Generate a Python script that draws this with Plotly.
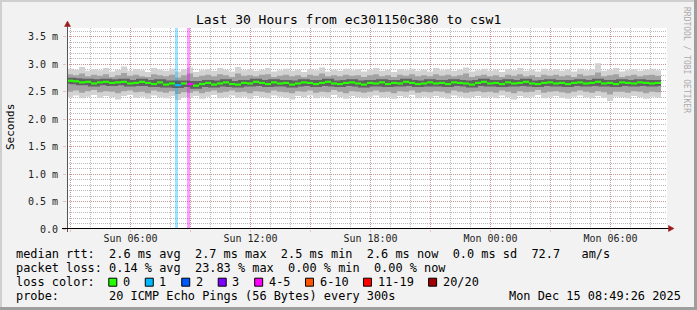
import plotly.graph_objects as go
import pandas as pd

# ---------------- data ----------------
T_START = "2025-12-14 02:49:26"
T_END = "2025-12-15 08:49:26"
STEP = "18min"
Y_TOP = 3.66  # ms, top of value axis

median_ms = [
    2.70, 2.69, 2.67, 2.68, 2.65, 2.67, 2.68, 2.66, 2.67, 2.68,
    2.65, 2.66, 2.68, 2.66, 2.64, 2.67, 2.63, 2.65, 2.62, 2.65,
    2.64, 2.61, 2.64, 2.66, 2.63, 2.65, 2.67, 2.64, 2.63, 2.66,
    2.65, 2.68, 2.66, 2.64, 2.67, 2.65, 2.66, 2.63, 2.65, 2.67,
    2.66, 2.64, 2.66, 2.68, 2.65, 2.64, 2.66, 2.67, 2.65, 2.63,
    2.66, 2.65, 2.67, 2.64, 2.66, 2.65, 2.68, 2.66, 2.64, 2.65,
    2.67, 2.65, 2.66, 2.64, 2.67, 2.66, 2.65, 2.63, 2.66, 2.68,
    2.65, 2.66, 2.64, 2.67, 2.65, 2.66, 2.68, 2.65, 2.64, 2.66,
    2.67, 2.65, 2.66, 2.64, 2.66, 2.67, 2.65, 2.66, 2.68, 2.65,
    2.66, 2.64, 2.67, 2.66, 2.65, 2.67, 2.66, 2.65, 2.66,
]
smoke_max_ms = [
    2.92, 2.90, 2.95, 2.88, 2.91, 2.89, 2.93, 2.87, 2.90, 2.96,
    2.88, 2.91, 2.89, 2.86, 2.93, 2.90, 2.88, 2.92, 2.87, 2.91,
    2.94, 2.86, 2.89, 2.91, 2.88, 2.93, 2.90, 2.87, 2.95, 2.89,
    2.91, 2.88, 2.90, 2.93, 2.87, 2.89, 2.92, 2.88, 2.90, 2.86,
    2.91, 2.89, 2.94, 2.87, 2.90, 2.88, 2.92, 2.89, 2.91, 2.87,
    2.90, 2.93, 2.88, 2.90, 2.86, 2.91, 2.89, 2.92, 2.88, 2.90,
    2.87, 2.93, 2.89, 2.91, 2.88, 2.90, 2.94, 2.87, 2.89, 2.92,
    2.88, 2.90, 2.86, 2.91, 2.89, 2.93, 2.88, 2.90, 2.87, 2.92,
    2.89, 2.91, 2.88, 2.90, 2.87, 2.92, 2.89, 2.91, 3.02, 2.88,
    2.90, 2.93, 2.87, 2.89, 2.91, 2.88, 2.90, 2.92, 2.89,
]
smoke_min_ms = [
    2.40, 2.43, 2.38, 2.41, 2.44, 2.39, 2.42, 2.40, 2.36, 2.42,
    2.44, 2.39, 2.41, 2.37, 2.43, 2.40, 2.38, 2.42, 2.35, 2.40,
    2.39, 2.42, 2.37, 2.41, 2.44, 2.38, 2.40, 2.43, 2.39, 2.41,
    2.37, 2.42, 2.40, 2.38, 2.43, 2.41, 2.39, 2.36, 2.42, 2.40,
    2.43, 2.38, 2.41, 2.39, 2.44, 2.40, 2.37, 2.42, 2.40, 2.38,
    2.41, 2.43, 2.39, 2.40, 2.37, 2.42, 2.40, 2.44, 2.38, 2.41,
    2.39, 2.42, 2.40, 2.37, 2.43, 2.41, 2.38, 2.40, 2.42, 2.39,
    2.41, 2.38, 2.43, 2.40, 2.36, 2.42, 2.39, 2.41, 2.44, 2.38,
    2.40, 2.42, 2.39, 2.37, 2.41, 2.43, 2.40, 2.38, 2.42, 2.39,
    2.33, 2.41, 2.40, 2.38, 2.42, 2.40, 2.37, 2.41, 2.39,
]
smoke_q_hi_ms = [
    2.82, 2.80, 2.83, 2.78, 2.81, 2.79, 2.82, 2.77, 2.80, 2.84,
    2.79, 2.81, 2.78, 2.77, 2.82, 2.80, 2.78, 2.81, 2.76, 2.80,
    2.83, 2.77, 2.79, 2.81, 2.78, 2.82, 2.80, 2.77, 2.83, 2.79,
    2.80, 2.78, 2.81, 2.82, 2.77, 2.79, 2.81, 2.78, 2.80, 2.77,
    2.81, 2.79, 2.83, 2.78, 2.80, 2.78, 2.81, 2.79, 2.80, 2.77,
    2.80, 2.82, 2.78, 2.80, 2.77, 2.81, 2.79, 2.82, 2.78, 2.80,
    2.78, 2.82, 2.79, 2.81, 2.78, 2.80, 2.83, 2.77, 2.79, 2.81,
    2.78, 2.80, 2.77, 2.81, 2.79, 2.82, 2.78, 2.80, 2.77, 2.81,
    2.79, 2.81, 2.78, 2.80, 2.77, 2.82, 2.79, 2.80, 2.85, 2.78,
    2.80, 2.82, 2.77, 2.79, 2.81, 2.78, 2.80, 2.81, 2.79,
]
smoke_q_lo_ms = [
    2.50, 2.52, 2.48, 2.51, 2.53, 2.49, 2.51, 2.50, 2.47, 2.51,
    2.52, 2.49, 2.50, 2.47, 2.52, 2.50, 2.48, 2.51, 2.46, 2.49,
    2.48, 2.51, 2.47, 2.50, 2.52, 2.48, 2.50, 2.52, 2.49, 2.50,
    2.47, 2.51, 2.50, 2.48, 2.52, 2.50, 2.49, 2.47, 2.51, 2.50,
    2.52, 2.48, 2.50, 2.49, 2.53, 2.50, 2.47, 2.51, 2.50, 2.48,
    2.50, 2.52, 2.49, 2.50, 2.47, 2.51, 2.50, 2.52, 2.48, 2.50,
    2.49, 2.51, 2.50, 2.47, 2.52, 2.50, 2.48, 2.50, 2.51, 2.49,
    2.50, 2.48, 2.52, 2.50, 2.47, 2.51, 2.49, 2.50, 2.53, 2.48,
    2.50, 2.51, 2.49, 2.47, 2.50, 2.52, 2.50, 2.48, 2.51, 2.49,
    2.45, 2.50, 2.50, 2.48, 2.51, 2.50, 2.47, 2.50, 2.49,
]

loss_times = ["2025-12-14 08:18:00", "2025-12-14 08:54:00"]
loss_counts = [1, 5]

loss_labels = ["0", "1", "2", "3", "4-5", "6-10", "11-19", "20/20"]
loss_upper = [0, 1, 2, 3, 5, 10, 19, 20]
loss_colors = ["#26ff00", "#00b8ff", "#0059ff", "#7e00ff",
               "#ff00ff", "#ff5500", "#ff0000", "#a10000"]

y_tickvals = [0.0, 0.5, 1.0, 1.5, 2.0, 2.5, 3.0, 3.5]
y_ticktext = ["0.0", "0.5 m", "1.0 m", "1.5 m", "2.0 m", "2.5 m", "3.0 m", "3.5 m"]

title_text = "Last 30 Hours from ec301150c380 to csw1"
y_title = "Seconds"
legend_rtt = "median rtt:  2.6 ms avg  2.7 ms max  2.5 ms min  2.6 ms now  0.0 ms sd  72.7   am/s"
legend_loss = "packet loss: 0.14 % avg  23.83 % max  0.00 % min  0.00 % now"
legend_color = "loss color:"
legend_probe = "probe:       20 ICMP Echo Pings (56 Bytes) every 300s"
stamp = "Mon Dec 15 08:49:26 2025"
watermark = "RRDTOOL / TOBI OETIKER"

# ---------------- layout geometry (pixels) ----------------
W, H = 697, 310
PL, PR, PT, PB = 67, 667, 28, 229
MONO = "DejaVu Sans Mono"
CHAR_W = 7.17
FS = 11.9
BG = "#F2F2F2"
MGRID = "rgba(230,80,80,0.33)"
GRID = "rgba(130,130,130,0.55)"
ARROW = "#9B1B1B"


def px(x):
    return (x - PL) / (PR - PL)


def py(y):
    return (PB - y) / (PB - PT)


def nbsp(s):
    return s.replace(" ", "\u00a0")


def color_for(n):
    for up, c in zip(loss_upper, loss_colors):
        if n <= up:
            return c
    return loss_colors[-1]


def rgba(hexc, a):
    h = hexc.lstrip("#")
    return "rgba(%d,%d,%d,%s)" % (int(h[0:2], 16), int(h[2:4], 16), int(h[4:6], 16), a)


# ---------------- traces ----------------
step_td = pd.Timedelta(STEP)
t0 = pd.Timestamp(T_START)
starts = pd.date_range(T_START, periods=len(median_ms), freq=STEP)
edges = list(starts) + [starts[-1] + step_td]


def stepped(v):
    return list(v) + [v[-1]]


step_loss = [0] * len(median_ms)
for t, c in zip(loss_times, loss_counts):
    idx = int((pd.Timestamp(t) - t0) // step_td)
    step_loss[idx] = c

fig = go.Figure()


def band(lo, hi, color):
    fig.add_trace(go.Scatter(x=edges, y=stepped(lo), mode="lines",
                             line=dict(width=0, shape="hv"), hoverinfo="skip", showlegend=False))
    fig.add_trace(go.Scatter(x=edges, y=stepped(hi), mode="lines", fill="tonexty",
                             fillcolor=color, line=dict(width=0, shape="hv"),
                             hoverinfo="skip", showlegend=False))


band(smoke_min_ms, smoke_max_ms, "#D2D2D2")
band(smoke_q_lo_ms, smoke_q_hi_ms, "#A2A2A2")

# loss indicators (full-height)
for t, c in zip(loss_times, loss_counts):
    fig.add_trace(go.Scatter(x=[t, t], y=[0, Y_TOP], mode="lines",
                             line=dict(color=rgba(color_for(c), 0.38), width=3),
                             hoverinfo="skip", showlegend=False))

# dark core around median
fig.add_trace(go.Scatter(x=edges, y=stepped(median_ms), mode="lines",
                         line=dict(color="rgba(45,45,45,0.55)", width=6, shape="hv"),
                         hoverinfo="skip", showlegend=False))

# median segments coloured by loss
segs = {}
for i, m in enumerate(median_ms):
    c = color_for(step_loss[i])
    xs, ys = segs.setdefault(c, ([], []))
    xs += [starts[i], starts[i] + step_td, None]
    ys += [m, m, None]
for c, (xs, ys) in segs.items():
    fig.add_trace(go.Scatter(x=xs, y=ys, mode="lines", line=dict(color=c, width=2.2),
                             hoverinfo="skip", showlegend=False))

# ---------------- axes ----------------
xt = pd.date_range("2025-12-14 03:00", T_END, freq="3h")
xtext = [d.strftime("%a %H:%M") if d.hour % 6 == 0 else "" for d in xt]

fig.update_xaxes(
    type="date", range=[T_START, T_END], showline=False, zeroline=False,
    tickmode="array", tickvals=list(xt), ticktext=xtext,
    ticks="outside", ticklen=2, tickcolor=MGRID, ticklabelstandoff=-2,
    showgrid=True, gridcolor=MGRID, griddash="1px,1px", gridwidth=1,
    minor=dict(tickmode="linear", tick0="2025-12-14 00:00", dtick=3600000,
               showgrid=True, gridcolor=GRID, griddash="1px,1px", ticks=""),
    tickfont=dict(family=MONO, size=10, color="#222"),
)
fig.update_yaxes(
    range=[0, Y_TOP], showline=False, zeroline=False,
    tickmode="array", tickvals=y_tickvals, ticktext=y_ticktext,
    ticks="outside", ticklen=3, tickcolor=MGRID, ticklabelstandoff=3,
    showgrid=True, gridcolor=MGRID, griddash="1px,1px", gridwidth=1,
    minor=dict(tickmode="linear", tick0=0, dtick=0.1,
               showgrid=True, gridcolor=GRID, griddash="1px,1px", ticks=""),
    tickfont=dict(family=MONO, size=10, color="#222"),
)

# ---------------- decorations ----------------
shapes = []
# frame shading
shapes.append(dict(type="rect", xref="paper", yref="paper", x0=px(0), x1=px(W), y0=py(0), y1=py(2),
                   fillcolor="#CFCFCF", line=dict(width=0), layer="above"))
shapes.append(dict(type="rect", xref="paper", yref="paper", x0=px(0), x1=px(2), y0=py(0), y1=py(H),
                   fillcolor="#CFCFCF", line=dict(width=0), layer="above"))
shapes.append(dict(type="rect", xref="paper", yref="paper", x0=px(W - 3), x1=px(W), y0=py(0), y1=py(H),
                   fillcolor="#9E9E9E", line=dict(width=0), layer="above"))
shapes.append(dict(type="rect", xref="paper", yref="paper", x0=px(0), x1=px(W), y0=py(H - 3), y1=py(H),
                   fillcolor="#9E9E9E", line=dict(width=0), layer="above"))
# axis lines
shapes.append(dict(type="line", xref="paper", yref="paper", x0=px(67.5), x1=px(67.5),
                   y0=py(232), y1=py(25), line=dict(color="#555", width=1), layer="above"))
shapes.append(dict(type="line", xref="paper", yref="paper", x0=px(62), x1=px(670),
                   y0=py(228.5), y1=py(228.5), line=dict(color="#000", width=1), layer="above"))
# arrows
shapes.append(dict(type="path", xref="paper", yref="paper", layer="above",
                   path="M %f,%f L %f,%f L %f,%f Z" % (px(64.5), py(26.5), px(70.5), py(26.5), px(67.5), py(21)),
                   fillcolor=ARROW, line=dict(color=ARROW, width=0.5)))
shapes.append(dict(type="path", xref="paper", yref="paper", layer="above",
                   path="M %f,%f L %f,%f L %f,%f Z" % (px(668.5), py(225.5), px(668.5), py(231.5), px(674), py(228.5)),
                   fillcolor=ARROW, line=dict(color=ARROW, width=0.5)))

annotations = []


def text(s, x, y, size=FS, xanchor="left", angle=0, color="#000", family=MONO):
    annotations.append(dict(text=nbsp(s), x=px(x), y=py(y), xref="paper", yref="paper",
                            showarrow=False, xanchor=xanchor, yanchor="middle",
                            textangle=angle, borderpad=0,
                            font=dict(family=family, size=size, color=color)))


text(title_text, 348.5, 20, size=13, xanchor="center")
text(y_title, 10, 127, size=11, xanchor="center", angle=-90)
text(watermark, 687, 60, size=8, xanchor="center", angle=90, color="#ABABAB")
LX = 15.3
text(legend_rtt, LX, 254.2)
text(legend_loss, LX, 268.2)
text(legend_color, LX, 281.9)
text(legend_probe, LX, 295.9)
text(stamp, 681.5, 295.9, xanchor="right")

sq = 108.3
for lab, col in zip(loss_labels, loss_colors):
    shapes.append(dict(type="rect", xref="paper", yref="paper", layer="above",
                       x0=px(sq + 0.5), x1=px(sq + 8.5), y0=py(278.2), y1=py(286.2),
                       fillcolor=col, line=dict(color="#000", width=1)))
    tx = sq + 13.6
    text(lab, tx, 281.9)
    sq = tx + len(lab) * CHAR_W + 15.7

fig.update_layout(
    width=W, height=H, autosize=False,
    margin=dict(l=PL, r=W - PR, t=PT, b=H - PB, pad=0),
    paper_bgcolor=BG, plot_bgcolor="#FFFFFF",
    showlegend=False, hovermode=False,
    shapes=shapes, annotations=annotations,
)

fig.write_html("out.html")
